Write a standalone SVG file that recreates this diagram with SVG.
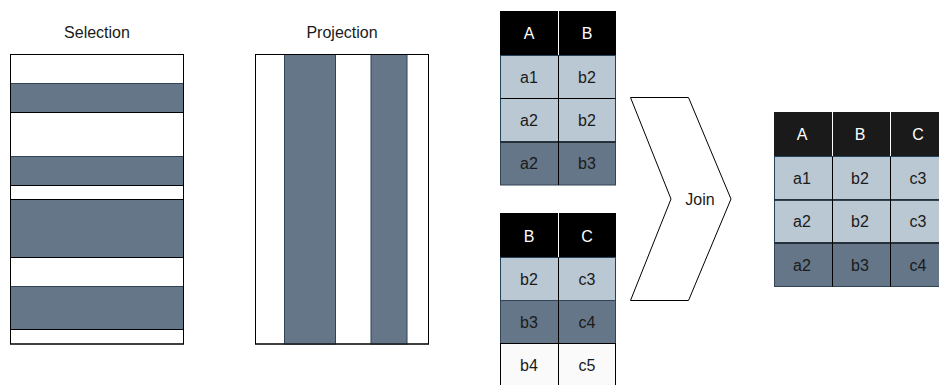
<svg xmlns="http://www.w3.org/2000/svg" width="939" height="385" viewBox="0 0 939 385">
  <style>
    text { font-family: "Liberation Sans", Arial, sans-serif; font-size: 16px; text-anchor: middle; dominant-baseline: central; fill: #1a1a1a; }
    .hd { fill: #ffffff; }
    .white { fill: #ffffff; stroke: #000000; stroke-width: 1; }
    .dark { fill: #647687; stroke: #314354; stroke-width: 1; }
    .light { fill: #bac8d3; stroke: #23445d; stroke-width: 1; }
    .pale { fill: #fafafa; stroke: #000000; stroke-width: 1; }
    .hblack { fill: #000000; }
    .hgrey { fill: #1a1a1a; }
    .sep { stroke: #000000; stroke-width: 1; fill: none; }
    .wsep { stroke: #ffffff; stroke-width: 1; fill: none; }
    .frame { fill: none; stroke: #000000; stroke-width: 1; }
  </style>

  <!-- Selection: horizontal row stripes -->
  <g id="selection">
    <text x="97" y="32">Selection</text>
    <rect class="white" x="10.5" y="54.5" width="173" height="289.5"/>
    <rect class="dark" x="10.5" y="83.5" width="173" height="29"/>
    <rect class="dark" x="10.5" y="156.5" width="173" height="29"/>
    <rect class="dark" x="10.5" y="199.5" width="173" height="58"/>
    <rect class="dark" x="10.5" y="286.5" width="173" height="43"/>
    <line class="sep" x1="10.5" y1="112.5" x2="183.5" y2="112.5"/>
    <line class="sep" x1="10.5" y1="185.5" x2="183.5" y2="185.5"/>
    <line class="sep" x1="10.5" y1="199.5" x2="183.5" y2="199.5"/>
    <line class="sep" x1="10.5" y1="257.5" x2="183.5" y2="257.5"/>
    <line class="sep" x1="10.5" y1="329.5" x2="183.5" y2="329.5"/>
    <rect class="frame" x="10.5" y="54.5" width="173" height="289.5"/>
  </g>

  <!-- Projection: vertical column stripes -->
  <g id="projection">
    <text x="342" y="32">Projection</text>
    <rect class="white" x="255.5" y="54.5" width="173" height="289.5"/>
    <rect class="dark" x="284.5" y="54.5" width="51" height="289.5"/>
    <rect class="dark" x="371" y="54.5" width="36" height="289.5"/>
    <rect class="frame" x="255.5" y="54.5" width="173" height="289.5"/>
  </g>

  <!-- Table A,B -->
  <g id="table-ab">
    <rect class="hblack" x="500" y="11" width="116" height="44"/>
    <line class="wsep" x1="558.5" y1="11" x2="558.5" y2="55"/>
    <text class="hd" x="529" y="33">A</text>
    <text class="hd" x="587" y="33">B</text>
    <rect class="light" x="500.5" y="55.5" width="115" height="43"/>
    <rect class="light" x="500.5" y="98.5" width="115" height="43.5"/>
    <rect class="dark" x="500.5" y="142" width="115" height="43"/>
    <line class="sep" x1="558.5" y1="55.5" x2="558.5" y2="185"/>
    <line class="sep" x1="500.5" y1="98.5" x2="615.5" y2="98.5"/>
    <line class="sep" x1="500.5" y1="142" x2="615.5" y2="142"/>
    <text x="529" y="77">a1</text><text x="587" y="77">b2</text>
    <text x="529" y="120">a2</text><text x="587" y="120">b2</text>
    <text x="529" y="163.5">a2</text><text x="587" y="163.5">b3</text>
  </g>

  <!-- Table B,C -->
  <g id="table-bc">
    <rect class="hblack" x="500" y="213" width="116" height="44"/>
    <line class="wsep" x1="558.5" y1="213" x2="558.5" y2="257"/>
    <text class="hd" x="529" y="236">B</text>
    <text class="hd" x="587" y="236">C</text>
    <rect class="light" x="500.5" y="257.5" width="115" height="43"/>
    <rect class="dark" x="500.5" y="300.5" width="115" height="43"/>
    <rect class="pale" x="500.5" y="343.5" width="115" height="43"/>
    <line class="sep" x1="558.5" y1="257.5" x2="558.5" y2="386"/>
    <line class="sep" x1="500.5" y1="343.5" x2="615.5" y2="343.5"/>
    <text x="529" y="279">b2</text><text x="587" y="279">c3</text>
    <text x="529" y="322">b3</text><text x="587" y="322">c4</text>
    <text x="529" y="365">b4</text><text x="587" y="365">c5</text>
  </g>

  <!-- Join chevron -->
  <g id="join">
    <polygon points="630.5,97.5 688.5,97.5 731,199 688.5,300.5 630.5,300.5 671,199" fill="#ffffff" stroke="#000000" stroke-width="1"/>
    <text x="700" y="199">Join</text>
  </g>

  <!-- Result table A,B,C -->
  <g id="table-result">
    <rect class="hgrey" x="774" y="112" width="170" height="44"/>
    <line class="wsep" x1="832.5" y1="112" x2="832.5" y2="156"/>
    <line class="wsep" x1="890.5" y1="112" x2="890.5" y2="156"/>
    <text class="hd" x="802" y="134">A</text>
    <text class="hd" x="860" y="134">B</text>
    <text class="hd" x="918" y="134">C</text>
    <rect class="light" x="774.5" y="156.5" width="170" height="43.5"/>
    <rect class="light" x="774.5" y="200" width="170" height="43"/>
    <rect class="dark" x="774.5" y="243" width="170" height="43.5"/>
    <line class="sep" x1="832.5" y1="156.5" x2="832.5" y2="286.5"/>
    <line class="sep" x1="890.5" y1="156.5" x2="890.5" y2="286.5"/>
    <line class="sep" x1="774.5" y1="200" x2="944" y2="200"/>
    <line class="sep" x1="774.5" y1="243" x2="944" y2="243"/>
    <text x="802" y="178">a1</text><text x="860" y="178">b2</text><text x="918" y="178">c3</text>
    <text x="802" y="221">a2</text><text x="860" y="221">b2</text><text x="918" y="221">c3</text>
    <text x="802" y="265">a2</text><text x="860" y="265">b3</text><text x="918" y="265">c4</text>
  </g>
</svg>
